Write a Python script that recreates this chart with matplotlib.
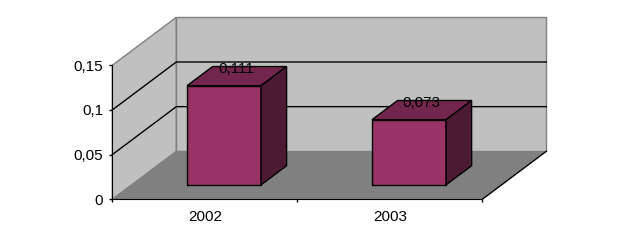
import matplotlib.pyplot as plt
from matplotlib.patches import Polygon
from matplotlib.ticker import FuncFormatter

years = ['2002', '2003']
values = [0.111, 0.073]
y_ticks = [0.0, 0.05, 0.10, 0.15]

plt.rcParams['font.family'] = ['Liberation Sans', 'DejaVu Sans']

fig = plt.figure(figsize=(6.17, 2.44), dpi=100)
ax = fig.add_axes([0.182, 0.1832, 0.5997, 0.5492])
ymax = y_ticks[-1]
ax.set_xlim(0, len(years))
ax.set_ylim(0, ymax)

# depth of the 3d box, in data units
dx = 0.346
dy = 0.0537

wall = '#c0c0c0'
floor = '#808080'

def poly(pts, fc, ec, lw=1.0, z=1):
    ax.add_patch(Polygon(pts, closed=True, facecolor=fc, edgecolor=ec,
                         linewidth=lw, zorder=z, clip_on=False))

n = len(years)
# side wall, back wall, floor
poly([(0, 0), (0, ymax), (dx, ymax + dy), (dx, dy)], wall, floor, z=0.5)
poly([(dx, dy), (n + dx, dy), (n + dx, ymax + dy), (dx, ymax + dy)], wall, floor, z=0.5)
poly([(0, 0), (n, 0), (n + dx, dy), (dx, dy)], floor, 'none', z=0.6)
ax.plot([n, n + dx], [0, dy], color='black', lw=1, zorder=0.7, clip_on=False)

# gridlines
for v in y_ticks[1:-1]:
    ax.plot([0, dx, n + dx], [v, v + dy, v + dy], color='black', lw=1,
            zorder=0.8, clip_on=False)

# bars
f0, f1 = 0.3, 0.7
bw = 0.4
for i, (yr, h) in enumerate(zip(years, values)):
    x0 = i + 0.5 - bw / 2
    x1 = i + 0.5 + bw / 2
    a, b = f0 * dx, f0 * dy
    c, d = f1 * dx, f1 * dy
    poly([(x0 + a, b), (x1 + a, b), (x1 + a, h + b), (x0 + a, h + b)], '#993366', 'black', z=2)
    poly([(x0 + a, h + b), (x1 + a, h + b), (x1 + c, h + d), (x0 + c, h + d)], '#73264d', 'black', z=2)
    poly([(x1 + a, b), (x1 + c, d), (x1 + c, h + d), (x1 + a, h + b)], '#4d1a33', 'black', z=2)
    ax.annotate('{:g}'.format(h).replace('.', ','),
                (i + 0.5 + 0.5 * (a + c), h + 0.5 * (b + d)),
                xytext=(0, 0), textcoords='offset points',
                ha='center', va='bottom', fontsize=11, zorder=3)

for s in ['top', 'right']:
    ax.spines[s].set_visible(False)
for s in ['left', 'bottom']:
    ax.spines[s].set_color('black')
    ax.spines[s].set_zorder(3)
ax.patch.set_visible(False)

ax.set_yticks(y_ticks)
ax.yaxis.set_major_formatter(FuncFormatter(lambda v, p: '{:g}'.format(v).replace('.', ',')))
ax.tick_params(axis='y', length=2.2, width=1, pad=4.3, labelsize=11, colors='black')
ax.set_xticks([i + 0.5 for i in range(n)])
ax.set_xticklabels(years)
ax.set_xticks(range(n + 1), minor=True)
ax.tick_params(axis='x', which='major', length=0, pad=8, labelsize=11)
ax.tick_params(axis='x', which='minor', length=2.5, width=1)

fig.savefig('out.png', dpi=100)
